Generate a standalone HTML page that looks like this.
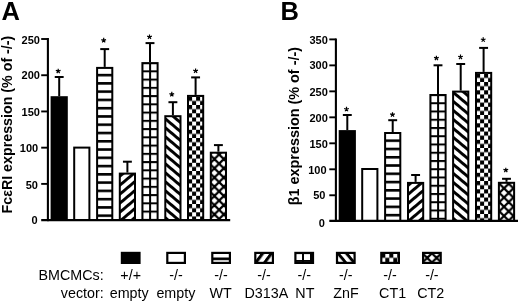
<!DOCTYPE html>
<html><head><meta charset="utf-8"><title>Figure</title>
<style>html,body{margin:0;padding:0;background:#fff;width:520px;height:302px;overflow:hidden}
svg text{font-family:"Liberation Sans", sans-serif} svg{will-change:transform}</style></head>
<body><svg width="520" height="302" viewBox="0 0 520 302" style="display:block" font-family='"Liberation Sans", sans-serif'><rect width="520" height="302" fill="#fff"/><defs><pattern id="p1" patternUnits="userSpaceOnUse" x="0" y="73.8" width="40" height="8.27"><rect width="40" height="8.27" fill="#fff"/><rect width="40" height="2.6" fill="#000"/></pattern><pattern id="p2" patternUnits="userSpaceOnUse" width="60" height="6.89" patternTransform="translate(120.8,191.5) rotate(-40.03)"><rect width="60" height="6.89" fill="#fff"/><rect width="60" height="2.91" fill="#000"/></pattern><pattern id="p3" patternUnits="userSpaceOnUse" x="141.1" y="62.1" width="8" height="8.25"><rect width="8" height="8.25" fill="#fff"/><rect width="8" height="2" fill="#000"/><rect width="2" height="8.25" fill="#000"/></pattern><pattern id="p4" patternUnits="userSpaceOnUse" width="60" height="6.89" patternTransform="translate(166.4,126.8) rotate(40.03)"><rect width="60" height="6.89" fill="#fff"/><rect width="60" height="2.91" fill="#000"/></pattern><pattern id="p5" patternUnits="userSpaceOnUse" x="188.1" y="96.8" width="8" height="8.25"><rect width="8" height="8.25" fill="#fff"/><rect width="4" height="4.12" fill="#000"/><rect x="4" y="4.12" width="4" height="4.12" fill="#000"/></pattern><pattern id="p6" patternUnits="userSpaceOnUse" x="219.1" y="163.7" width="9.4" height="9.22"><rect width="9.4" height="9.22" fill="#fff"/><path d="M-4.7,-4.61 L14.100000000000001,13.830000000000002 M-4.7,4.61 L4.7,13.830000000000002 M4.7,-4.61 L14.100000000000001,4.61 M-4.7,13.830000000000002 L14.100000000000001,-4.61 M-4.7,4.61 L4.7,-4.61 M4.7,13.830000000000002 L14.100000000000001,4.61" stroke="#000" stroke-width="2.2"/></pattern><pattern id="p7" patternUnits="userSpaceOnUse" x="0" y="139.4" width="40" height="8.27"><rect width="40" height="8.27" fill="#fff"/><rect width="40" height="2.6" fill="#000"/></pattern><pattern id="p8" patternUnits="userSpaceOnUse" width="60" height="6.89" patternTransform="translate(409.2,200.5) rotate(-40.03)"><rect width="60" height="6.89" fill="#fff"/><rect width="60" height="2.91" fill="#000"/></pattern><pattern id="p9" patternUnits="userSpaceOnUse" x="429.1" y="94" width="8" height="8.25"><rect width="8" height="8.25" fill="#fff"/><rect width="8" height="2" fill="#000"/><rect width="2" height="8.25" fill="#000"/></pattern><pattern id="p10" patternUnits="userSpaceOnUse" width="60" height="6.89" patternTransform="translate(454.5,154.5) rotate(40.03)"><rect width="60" height="6.89" fill="#fff"/><rect width="60" height="2.91" fill="#000"/></pattern><pattern id="p11" patternUnits="userSpaceOnUse" x="476.1" y="73.8" width="8" height="8.25"><rect width="8" height="8.25" fill="#fff"/><rect width="4" height="4.12" fill="#000"/><rect x="4" y="4.12" width="4" height="4.12" fill="#000"/></pattern><pattern id="p12" patternUnits="userSpaceOnUse" x="504" y="188.3" width="9.4" height="9.22"><rect width="9.4" height="9.22" fill="#fff"/><path d="M-4.7,-4.61 L14.100000000000001,13.830000000000002 M-4.7,4.61 L4.7,13.830000000000002 M4.7,-4.61 L14.100000000000001,4.61 M-4.7,13.830000000000002 L14.100000000000001,-4.61 M-4.7,4.61 L4.7,-4.61 M4.7,13.830000000000002 L14.100000000000001,4.61" stroke="#000" stroke-width="2.2"/></pattern><pattern id="p13" patternUnits="userSpaceOnUse" x="0" y="257.5" width="40" height="8.27"><rect width="40" height="8.27" fill="#fff"/><rect width="40" height="2.7" fill="#000"/></pattern><pattern id="p14" patternUnits="userSpaceOnUse" width="60" height="7.08" patternTransform="translate(258.1,257) rotate(-53.47)"><rect width="60" height="7.08" fill="#fff"/><rect width="60" height="3.04" fill="#000"/></pattern><pattern id="p15" patternUnits="userSpaceOnUse" x="294" y="251.8" width="8" height="8.25"><rect width="8" height="8.25" fill="#fff"/><rect width="8" height="2" fill="#000"/><rect width="2" height="8.25" fill="#000"/></pattern><pattern id="p16" patternUnits="userSpaceOnUse" width="60" height="6.47" patternTransform="translate(340,253.5) rotate(50.19)"><rect width="60" height="6.47" fill="#fff"/><rect width="60" height="2.94" fill="#000"/></pattern><pattern id="p17" patternUnits="userSpaceOnUse" x="381.3" y="253.7" width="8" height="8.25"><rect width="8" height="8.25" fill="#fff"/><rect width="4" height="4.12" fill="#000"/><rect x="4" y="4.12" width="4" height="4.12" fill="#000"/></pattern><pattern id="p18" patternUnits="userSpaceOnUse" x="431.9" y="253.3" width="9.4" height="9.22"><rect width="9.4" height="9.22" fill="#fff"/><path d="M-4.7,-4.61 L14.100000000000001,13.830000000000002 M-4.7,4.61 L4.7,13.830000000000002 M4.7,-4.61 L14.100000000000001,4.61 M-4.7,13.830000000000002 L14.100000000000001,-4.61 M-4.7,4.61 L4.7,-4.61 M4.7,13.830000000000002 L14.100000000000001,4.61" stroke="#000" stroke-width="2.2"/></pattern></defs><line x1="59.2" y1="96.2" x2="59.2" y2="77" stroke="#000" stroke-width="2"/><rect x="54.75" y="76" width="8.9" height="2" fill="#000"/><rect x="50.6" y="96.2" width="17.2" height="123.9" fill="#000"/><path d="M58.2,71.15L58.2,68.65M58.2,71.15L60.58,70.38M58.2,71.15L59.67,73.17M58.2,71.15L56.73,73.17M58.2,71.15L55.82,70.38" stroke="#000" stroke-width="1.2" fill="none"/><rect x="73.2" y="146.6" width="17.2" height="73.5" fill="#000"/><rect x="75.2" y="148.6" width="13.2" height="71.5" fill="#fff"/><line x1="104.7" y1="66.9" x2="104.7" y2="49.1" stroke="#000" stroke-width="2"/><rect x="100.25" y="48.1" width="8.9" height="2" fill="#000"/><rect x="96.1" y="66.9" width="17.2" height="153.2" fill="#000"/><rect x="98.1" y="68.9" width="13.2" height="151.2" fill="url(#p1)"/><path d="M103.7,40.35L103.7,37.85M103.7,40.35L106.08,39.58M103.7,40.35L105.17,42.37M103.7,40.35L102.23,42.37M103.7,40.35L101.32,39.58" stroke="#000" stroke-width="1.2" fill="none"/><line x1="127.4" y1="172.6" x2="127.4" y2="161.7" stroke="#000" stroke-width="2"/><rect x="122.95" y="160.7" width="8.9" height="2" fill="#000"/><rect x="118.8" y="172.6" width="17.2" height="47.5" fill="#000"/><rect x="120.8" y="174.6" width="13.2" height="45.5" fill="url(#p2)"/><line x1="150" y1="62.1" x2="150" y2="43.1" stroke="#000" stroke-width="2"/><rect x="145.55" y="42.1" width="8.9" height="2" fill="#000"/><rect x="141.4" y="62.1" width="17.2" height="158" fill="#000"/><rect x="143.4" y="64.1" width="13.2" height="156" fill="url(#p3)"/><path d="M149.5,36.95L149.5,34.45M149.5,36.95L151.88,36.18M149.5,36.95L150.97,38.97M149.5,36.95L148.03,38.97M149.5,36.95L147.12,36.18" stroke="#000" stroke-width="1.2" fill="none"/><line x1="172.9" y1="115.2" x2="172.9" y2="102.2" stroke="#000" stroke-width="2"/><rect x="168.45" y="101.2" width="8.9" height="2" fill="#000"/><rect x="164.3" y="115.2" width="17.2" height="104.9" fill="#000"/><rect x="166.3" y="117.2" width="13.2" height="102.9" fill="url(#p4)"/><path d="M171.8,94.35L171.8,91.85M171.8,94.35L174.18,93.58M171.8,94.35L173.27,96.37M171.8,94.35L170.33,96.37M171.8,94.35L169.42,93.58" stroke="#000" stroke-width="1.2" fill="none"/><line x1="195.6" y1="94.9" x2="195.6" y2="77.4" stroke="#000" stroke-width="2"/><rect x="191.15" y="76.4" width="8.9" height="2" fill="#000"/><rect x="187" y="94.9" width="17.2" height="125.2" fill="#000"/><rect x="189" y="96.9" width="13.2" height="123.2" fill="url(#p5)"/><path d="M195.6,70.95L195.6,68.45M195.6,70.95L197.98,70.18M195.6,70.95L197.07,72.97M195.6,70.95L194.13,72.97M195.6,70.95L193.22,70.18" stroke="#000" stroke-width="1.2" fill="none"/><line x1="218.4" y1="151.7" x2="218.4" y2="145.1" stroke="#000" stroke-width="2"/><rect x="213.95" y="144.1" width="8.9" height="2" fill="#000"/><rect x="209.8" y="151.7" width="17.2" height="68.4" fill="#000"/><rect x="211.8" y="153.7" width="13.2" height="66.4" fill="url(#p6)"/><line x1="47.9" y1="38" x2="47.9" y2="221.2" stroke="#000" stroke-width="2.1"/><line x1="41.2" y1="220.1" x2="230.2" y2="220.1" stroke="#000" stroke-width="2.1"/><text x="37.5" y="224.3" font-size="11" font-weight="bold" text-anchor="end" >0</text><line x1="41.2" y1="183.9" x2="47.9" y2="183.9" stroke="#000" stroke-width="1.9"/><text x="37.9" y="188.55" font-size="11" font-weight="bold" text-anchor="end" >50</text><line x1="41.2" y1="147.67" x2="47.9" y2="147.67" stroke="#000" stroke-width="1.9"/><text x="38.2" y="151.55" font-size="11" font-weight="bold" text-anchor="end" >100</text><line x1="41.2" y1="111.45" x2="47.9" y2="111.45" stroke="#000" stroke-width="1.9"/><text x="39.9" y="115.55" font-size="11" font-weight="bold" text-anchor="end" >150</text><line x1="41.2" y1="75.23" x2="47.9" y2="75.23" stroke="#000" stroke-width="1.9"/><text x="39.9" y="79.4" font-size="11" font-weight="bold" text-anchor="end" >200</text><line x1="41.2" y1="39" x2="47.9" y2="39" stroke="#000" stroke-width="1.9"/><text x="39.9" y="43.55" font-size="11" font-weight="bold" text-anchor="end" >250</text><line x1="347.3" y1="130.1" x2="347.3" y2="115" stroke="#000" stroke-width="2"/><rect x="342.85" y="114" width="8.9" height="2" fill="#000"/><rect x="338.7" y="130.1" width="17.2" height="90.8" fill="#000"/><path d="M346.5,109.25L346.5,106.75M346.5,109.25L348.88,108.48M346.5,109.25L347.97,111.27M346.5,109.25L345.03,111.27M346.5,109.25L344.12,108.48" stroke="#000" stroke-width="1.2" fill="none"/><rect x="361.2" y="168" width="17.2" height="52.9" fill="#000"/><rect x="363.2" y="170" width="13.2" height="50.9" fill="#fff"/><line x1="392.7" y1="132" x2="392.7" y2="120.2" stroke="#000" stroke-width="2"/><rect x="388.25" y="119.2" width="8.9" height="2" fill="#000"/><rect x="384.1" y="132" width="17.2" height="88.9" fill="#000"/><rect x="386.1" y="134" width="13.2" height="86.9" fill="url(#p7)"/><path d="M392.5,114.65L392.5,112.15M392.5,114.65L394.88,113.88M392.5,114.65L393.97,116.67M392.5,114.65L391.03,116.67M392.5,114.65L390.12,113.88" stroke="#000" stroke-width="1.2" fill="none"/><line x1="415.6" y1="181.9" x2="415.6" y2="175" stroke="#000" stroke-width="2"/><rect x="411.15" y="174" width="8.9" height="2" fill="#000"/><rect x="407" y="181.9" width="17.2" height="39" fill="#000"/><rect x="409" y="183.9" width="13.2" height="37" fill="url(#p8)"/><line x1="438" y1="94" x2="438" y2="65.3" stroke="#000" stroke-width="2"/><rect x="433.55" y="64.3" width="8.9" height="2" fill="#000"/><rect x="429.4" y="94" width="17.2" height="126.9" fill="#000"/><rect x="431.4" y="96" width="13.2" height="124.9" fill="url(#p9)"/><path d="M436.4,58.15L436.4,55.65M436.4,58.15L438.78,57.38M436.4,58.15L437.87,60.17M436.4,58.15L434.93,60.17M436.4,58.15L434.02,57.38" stroke="#000" stroke-width="1.2" fill="none"/><line x1="460.7" y1="90.6" x2="460.7" y2="64" stroke="#000" stroke-width="2"/><rect x="456.25" y="63" width="8.9" height="2" fill="#000"/><rect x="452.1" y="90.6" width="17.2" height="130.3" fill="#000"/><rect x="454.1" y="92.6" width="13.2" height="128.3" fill="url(#p10)"/><path d="M460.5,57.05L460.5,54.55M460.5,57.05L462.88,56.28M460.5,57.05L461.97,59.07M460.5,57.05L459.03,59.07M460.5,57.05L458.12,56.28" stroke="#000" stroke-width="1.2" fill="none"/><line x1="483.6" y1="71.9" x2="483.6" y2="47.9" stroke="#000" stroke-width="2"/><rect x="479.15" y="46.9" width="8.9" height="2" fill="#000"/><rect x="475" y="71.9" width="17.2" height="149" fill="#000"/><rect x="477" y="73.9" width="13.2" height="147" fill="url(#p11)"/><path d="M483.2,39.75L483.2,37.25M483.2,39.75L485.58,38.98M483.2,39.75L484.67,41.77M483.2,39.75L481.73,41.77M483.2,39.75L480.82,38.98" stroke="#000" stroke-width="1.2" fill="none"/><line x1="506.5" y1="181.8" x2="506.5" y2="178.8" stroke="#000" stroke-width="2"/><rect x="502.05" y="177.8" width="8.9" height="2" fill="#000"/><rect x="497.9" y="181.8" width="17.2" height="39.1" fill="#000"/><rect x="499.9" y="183.8" width="13.2" height="37.1" fill="url(#p12)"/><path d="M505.8,170.15L505.8,167.65M505.8,170.15L508.18,169.38M505.8,170.15L507.27,172.17M505.8,170.15L504.33,172.17M505.8,170.15L503.42,169.38" stroke="#000" stroke-width="1.2" fill="none"/><line x1="335.9" y1="38.5" x2="335.9" y2="221.9" stroke="#000" stroke-width="2.1"/><line x1="329.3" y1="220.9" x2="518" y2="220.9" stroke="#000" stroke-width="2.1"/><text x="324.9" y="227.4" font-size="11" font-weight="bold" text-anchor="end" >0</text><line x1="329.3" y1="195.27" x2="335.9" y2="195.27" stroke="#000" stroke-width="1.9"/><text x="325.5" y="198.9" font-size="11" font-weight="bold" text-anchor="end" >50</text><line x1="329.3" y1="169.29" x2="335.9" y2="169.29" stroke="#000" stroke-width="1.9"/><text x="326.5" y="173.9" font-size="11" font-weight="bold" text-anchor="end" >100</text><line x1="329.3" y1="143.31" x2="335.9" y2="143.31" stroke="#000" stroke-width="1.9"/><text x="327.8" y="147.6" font-size="11" font-weight="bold" text-anchor="end" >150</text><line x1="329.3" y1="117.33" x2="335.9" y2="117.33" stroke="#000" stroke-width="1.9"/><text x="327.8" y="121.9" font-size="11" font-weight="bold" text-anchor="end" >200</text><line x1="329.3" y1="91.35" x2="335.9" y2="91.35" stroke="#000" stroke-width="1.9"/><text x="327.8" y="96.2" font-size="11" font-weight="bold" text-anchor="end" >250</text><line x1="329.3" y1="65.37" x2="335.9" y2="65.37" stroke="#000" stroke-width="1.9"/><text x="327.8" y="69.4" font-size="11" font-weight="bold" text-anchor="end" >300</text><line x1="329.3" y1="39.39" x2="335.9" y2="39.39" stroke="#000" stroke-width="1.9"/><text x="327.8" y="43.7" font-size="11" font-weight="bold" text-anchor="end" >350</text><text x="1.4" y="19.6" font-size="25.5" font-weight="bold" text-anchor="start" >A</text><text x="280.4" y="19.6" font-size="25.5" font-weight="bold" text-anchor="start" >B</text><text transform="translate(11.5,213.5) rotate(-90)" font-size="14.25" font-weight="bold">Fc&#949;RI expression (% of -/-)</text><text transform="translate(299.1,205.3) rotate(-90)" font-size="14.4" font-weight="bold">&#946;1 expression (% of -/-)</text><rect x="120.8" y="251.8" width="19.8" height="12.2" fill="#000"/><text x="130.7" y="280.3" font-size="14.3" font-weight="normal" text-anchor="middle" >+/+</text><text x="129.2" y="297.5" font-size="14.3" font-weight="normal" text-anchor="middle" >empty</text><rect x="166.2" y="251.8" width="19.8" height="12.2" fill="#000"/><rect x="168.4" y="254" width="15.4" height="7.8" fill="#fff"/><text x="176.1" y="280.3" font-size="14.3" font-weight="normal" text-anchor="middle" >-/-</text><text x="175.9" y="297.5" font-size="14.3" font-weight="normal" text-anchor="middle" >empty</text><rect x="211.2" y="251.8" width="19.8" height="12.2" fill="#000"/><rect x="213.4" y="254" width="15.4" height="7.8" fill="url(#p13)"/><text x="221.1" y="280.3" font-size="14.3" font-weight="normal" text-anchor="middle" >-/-</text><text x="220.7" y="297.5" font-size="14.3" font-weight="normal" text-anchor="middle" >WT</text><rect x="254.2" y="251.8" width="19.8" height="12.2" fill="#000"/><rect x="256.4" y="254" width="15.4" height="7.8" fill="url(#p14)"/><text x="264.1" y="280.3" font-size="14.3" font-weight="normal" text-anchor="middle" >-/-</text><text x="266.4" y="297.5" font-size="14.3" font-weight="normal" text-anchor="middle" >D313A</text><rect x="294.3" y="251.8" width="19.8" height="12.2" fill="#000"/><rect x="296.5" y="254" width="15.4" height="7.8" fill="url(#p15)"/><text x="304.2" y="280.3" font-size="14.3" font-weight="normal" text-anchor="middle" >-/-</text><text x="304.9" y="297.5" font-size="14.3" font-weight="normal" text-anchor="middle" >NT</text><rect x="335.9" y="251.8" width="19.8" height="12.2" fill="#000"/><rect x="338.1" y="254" width="15.4" height="7.8" fill="url(#p16)"/><text x="345.8" y="280.3" font-size="14.3" font-weight="normal" text-anchor="middle" >-/-</text><text x="346" y="297.5" font-size="14.3" font-weight="normal" text-anchor="middle" >ZnF</text><rect x="380.2" y="251.8" width="19.8" height="12.2" fill="#000"/><rect x="382.4" y="254" width="15.4" height="7.8" fill="url(#p17)"/><text x="390.1" y="280.3" font-size="14.3" font-weight="normal" text-anchor="middle" >-/-</text><text x="392.6" y="297.5" font-size="14.3" font-weight="normal" text-anchor="middle" >CT1</text><rect x="422" y="251.8" width="19.8" height="12.2" fill="#000"/><rect x="424.2" y="254" width="15.4" height="7.8" fill="url(#p18)"/><text x="431.9" y="280.3" font-size="14.3" font-weight="normal" text-anchor="middle" >-/-</text><text x="430.7" y="297.5" font-size="14.3" font-weight="normal" text-anchor="middle" >CT2</text><text x="103.7" y="280.3" font-size="14.3" font-weight="normal" text-anchor="end" >BMCMCs:</text><text x="103.7" y="297.5" font-size="14.3" font-weight="normal" text-anchor="end" >vector:</text></svg></body></html>
